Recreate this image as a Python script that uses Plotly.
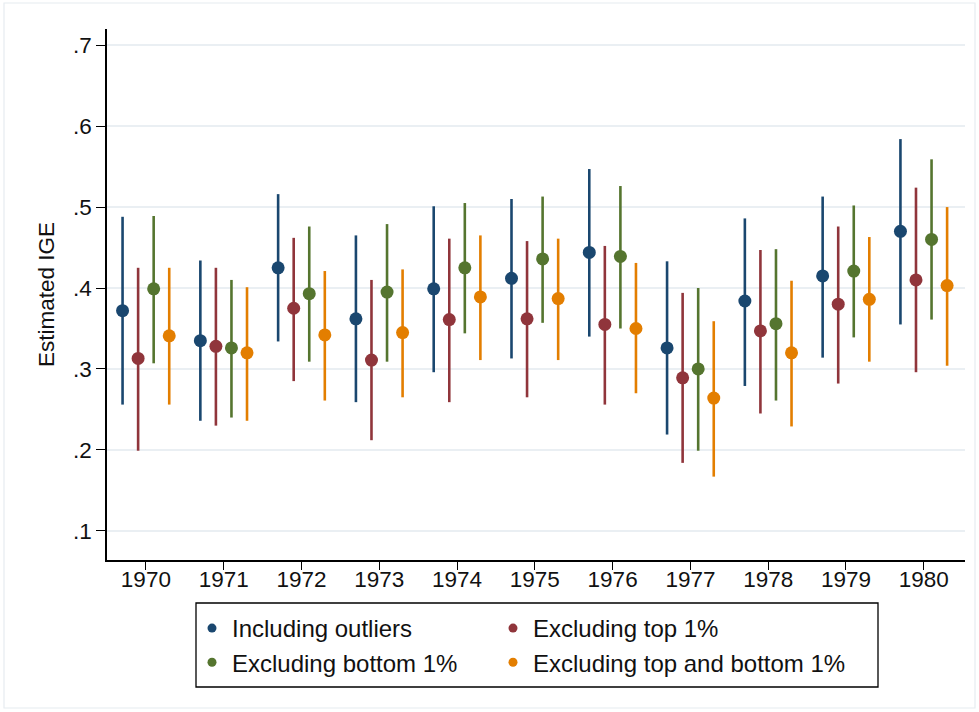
import plotly.graph_objects as go

# Birth cohorts
years = [1970, 1971, 1972, 1973, 1974, 1975, 1976, 1977, 1978, 1979, 1980]

# Including outliers: point estimate, lower and upper 95% CI bounds
incl_est = [0.372, 0.335, 0.425, 0.362, 0.399, 0.412, 0.444, 0.326, 0.384, 0.415, 0.470]
incl_lo = [0.256, 0.236, 0.334, 0.259, 0.296, 0.313, 0.340, 0.219, 0.279, 0.314, 0.355]
incl_hi = [0.488, 0.434, 0.516, 0.465, 0.501, 0.510, 0.547, 0.433, 0.486, 0.513, 0.584]

# Excluding top 1%
top_est = [0.313, 0.328, 0.375, 0.311, 0.361, 0.362, 0.355, 0.289, 0.347, 0.380, 0.410]
top_lo = [0.199, 0.230, 0.285, 0.212, 0.259, 0.265, 0.256, 0.184, 0.245, 0.282, 0.296]
top_hi = [0.425, 0.425, 0.462, 0.410, 0.461, 0.458, 0.452, 0.394, 0.447, 0.476, 0.524]

# Excluding bottom 1%
bot_est = [0.399, 0.326, 0.393, 0.395, 0.425, 0.436, 0.439, 0.300, 0.356, 0.421, 0.460]
bot_lo = [0.307, 0.240, 0.309, 0.309, 0.344, 0.357, 0.350, 0.199, 0.261, 0.339, 0.361]
bot_hi = [0.489, 0.410, 0.476, 0.479, 0.505, 0.513, 0.526, 0.400, 0.448, 0.502, 0.559]

# Excluding top and bottom 1%
both_est = [0.341, 0.320, 0.342, 0.345, 0.389, 0.387, 0.350, 0.264, 0.320, 0.386, 0.403]
both_lo = [0.256, 0.236, 0.261, 0.265, 0.311, 0.311, 0.270, 0.167, 0.229, 0.309, 0.304]
both_hi = [0.425, 0.401, 0.421, 0.423, 0.465, 0.461, 0.431, 0.359, 0.409, 0.463, 0.500]

y_ticks = [0.1, 0.2, 0.3, 0.4, 0.5, 0.6, 0.7]
y_tick_labels = [".1", ".2", ".3", ".4", ".5", ".6", ".7"]

series = [
    ("Including outliers", incl_est, incl_lo, incl_hi, "#1a476f", -0.3, "legend"),
    ("Excluding top 1%", top_est, top_lo, top_hi, "#90353b", -0.1, "legend2"),
    ("Excluding bottom 1%", bot_est, bot_lo, bot_hi, "#55752f", 0.1, "legend"),
    ("Excluding top and bottom 1%", both_est, both_lo, both_hi, "#e37e00", 0.3, "legend2"),
]

FONT = "Liberation Sans, Arial, sans-serif"
TXT = "#111111"

fig = go.Figure()
for i, (name, est, lo, hi, color, offset, leg) in enumerate(series):
    fig.add_trace(go.Scatter(
        x=[y + offset for y in years],
        y=est,
        mode="markers",
        name=name,
        showlegend=False,
        marker=dict(color=color, size=13),
        error_y=dict(
            type="data",
            symmetric=False,
            array=[h - e for h, e in zip(hi, est)],
            arrayminus=[e - l for e, l in zip(est, lo)],
            color=color,
            thickness=2.6,
            width=0,
        ),
    ))
    # legend key (small dot, no bars)
    fig.add_trace(go.Scatter(
        x=[None], y=[None],
        mode="markers",
        name=name,
        legend=leg,
        legendgroup=f"g{i}",
        marker=dict(color=color, size=9),
    ))

legend_common = dict(
    orientation="v",
    bgcolor="rgba(0,0,0,0)",
    borderwidth=0,
    font=dict(family=FONT, size=24, color=TXT),
    tracegroupgap=0,
    xanchor="left",
    yanchor="top",
    yref="paper",
    xref="paper",
    itemclick=False,
)

fig.update_layout(
    width=979,
    height=712,
    margin=dict(l=107, r=14, t=29, b=152),
    paper_bgcolor="white",
    plot_bgcolor="white",
    font=dict(family=FONT, size=22.5, color=TXT),
    legend=dict(legend_common, x=(192 - 107) / 858, y=(560 - 606) / 531),
    legend2=dict(legend_common, x=(493 - 107) / 858, y=(560 - 606) / 531),
    xaxis=dict(
        range=[1969.5, 1980.53],
        tickmode="array",
        tickvals=years,
        ticktext=[str(y) for y in years],
        showgrid=False,
        zeroline=False,
        showline=True,
        linecolor="#000000",
        linewidth=1.5,
        ticks="outside",
        ticklen=8,
        tickwidth=1.2,
        tickcolor="#000000",
        ticklabelstandoff=-10,
        tickfont=dict(family=FONT, size=22.5, color=TXT),
    ),
    yaxis=dict(
        range=[0.064, 0.72],
        tickmode="array",
        tickvals=y_ticks,
        ticktext=y_tick_labels,
        showgrid=True,
        gridcolor="#eaeff3",
        gridwidth=1.5,
        zeroline=False,
        showline=True,
        linecolor="#000000",
        linewidth=1.5,
        ticks="outside",
        ticklen=9,
        tickwidth=1.2,
        tickcolor="#000000",
        tickfont=dict(family=FONT, size=22.5, color=TXT),
        title=dict(text="Estimated IGE", font=dict(family=FONT, size=22.5, color=TXT), standoff=12),
    ),
)

# Legend frame
fig.add_shape(
    type="rect", xref="paper", yref="paper",
    x0=(196 - 107) / 858, x1=(878 - 107) / 858,
    y0=(560 - 687) / 531, y1=(560 - 603) / 531,
    line=dict(color="#000000", width=1.3),
    fillcolor="rgba(0,0,0,0)",
)

# Outer graph-region frame
fig.add_shape(
    type="rect", xref="paper", yref="paper",
    x0=(4 - 107) / 858, x1=(975 - 107) / 858,
    y0=(560 - 708) / 531, y1=(560 - 3) / 531,
    line=dict(color="#e6ecf0", width=1.2),
    fillcolor="rgba(0,0,0,0)",
    layer="below",
)

fig.write_html("out.html")
